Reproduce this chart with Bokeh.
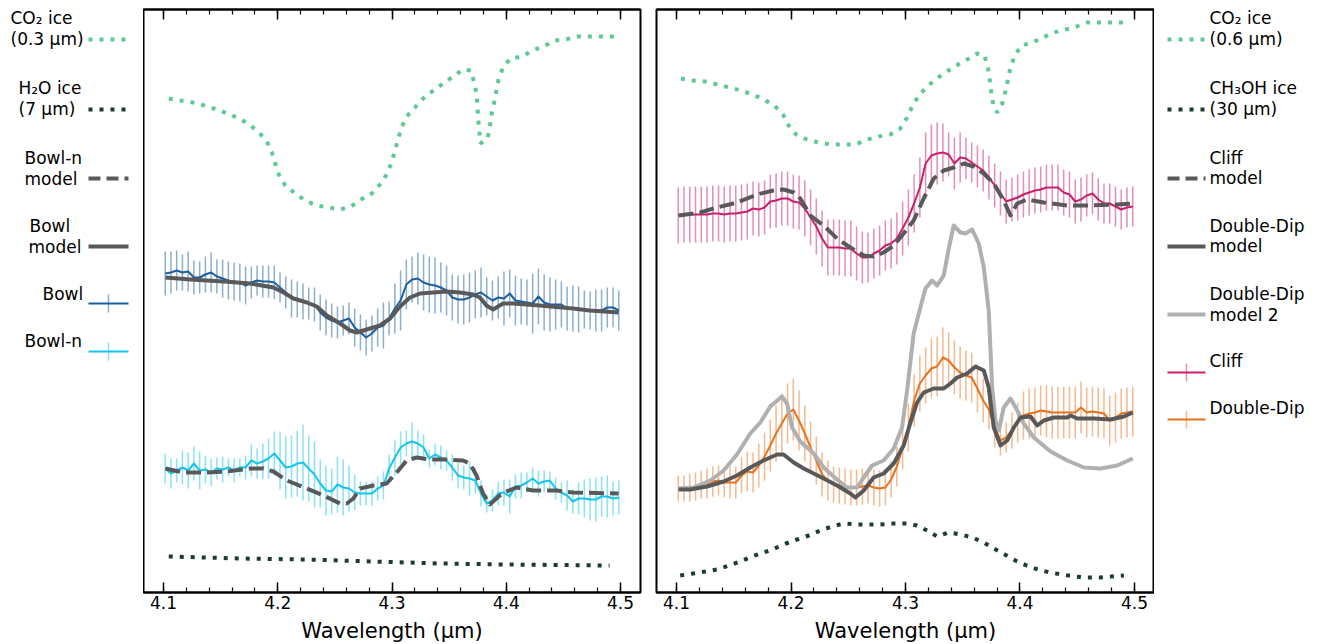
import numpy as np
from bokeh.plotting import figure
from bokeh.models import (Range1d, LinearAxis, ColumnDataSource, SingleIntervalTicker,
                          CustomLabelingPolicy)
from bokeh.layouts import row
from bokeh.embed import file_html
from bokeh.resources import INLINE
from bokeh.core.properties import value

# ---------------- data ----------------
# common wavelength grid of the observed spectra (micron)
wl = np.linspace(4.1015, 4.4985, 80)

bowl = [3.19, 3.20, 3.22, 3.20, 3.21, 3.15, 3.15, 3.18, 3.20, 3.16,
        3.14, 3.12, 3.11, 3.10, 3.07, 3.10, 3.12, 3.11, 3.11, 3.10,
        3.05, 3.00, 2.94, 2.93, 2.91, 2.89, 2.88, 2.80, 2.75, 2.72,
        2.70, 2.72, 2.74, 2.65, 2.60, 2.55, 2.59, 2.65, 2.67, 2.74,
        2.84, 2.92, 3.08, 3.13, 3.14, 3.10, 3.08, 3.07, 3.05, 3.02,
        2.95, 2.93, 2.93, 2.95, 2.98, 3.00, 2.96, 2.92, 2.95, 2.94,
        2.99, 2.92, 2.91, 2.90, 2.89, 2.96, 2.90, 2.88, 2.88, 2.88,
        2.84, 2.84, 2.83, 2.83, 2.82, 2.82, 2.82, 2.85, 2.85, 2.82]
bowl_err = [0.22, 0.21, 0.20, 0.18, 0.20, 0.17, 0.16, 0.18, 0.20, 0.17,
            0.19, 0.19, 0.19, 0.19, 0.19, 0.16, 0.15, 0.16, 0.16, 0.17,
            0.15, 0.16, 0.19, 0.18, 0.18, 0.16, 0.17, 0.18, 0.18, 0.17,
            0.16, 0.15, 0.16, 0.19, 0.18, 0.18, 0.18, 0.19, 0.23, 0.17,
            0.25, 0.30, 0.25, 0.23, 0.26, 0.28, 0.28, 0.28, 0.25, 0.25,
            0.23, 0.24, 0.25, 0.25, 0.24, 0.25, 0.19, 0.20, 0.21, 0.27,
            0.24, 0.25, 0.23, 0.23, 0.30, 0.28, 0.28, 0.27, 0.25, 0.23,
            0.22, 0.23, 0.23, 0.19, 0.19, 0.21, 0.21, 0.20, 0.20, 0.20]

bowln = [1.24, 1.19, 1.22, 1.25, 1.22, 1.29, 1.22, 1.23, 1.20, 1.24,
         1.23, 1.25, 1.22, 1.25, 1.25, 1.32, 1.29, 1.31, 1.34, 1.39,
         1.32, 1.25, 1.26, 1.29, 1.30, 1.24, 1.18, 1.09, 1.02, 1.01,
         1.08, 1.05, 1.04, 1.00, 0.99, 0.99, 0.99, 1.04, 1.07, 1.24,
         1.35, 1.45, 1.49, 1.51, 1.49, 1.45, 1.34, 1.38, 1.35, 1.32,
         1.25, 1.17, 1.15, 1.14, 1.12, 0.99, 0.89, 0.92, 0.99, 1.00,
         0.96, 1.06, 1.07, 1.10, 1.14, 1.09, 1.11, 1.12, 1.04, 1.00,
         0.97, 0.91, 0.94, 0.94, 0.93, 0.93, 0.96, 0.96, 0.94, 0.95]
bowln_err = [0.15, 0.15, 0.12, 0.17, 0.18, 0.17, 0.19, 0.14, 0.14, 0.11,
             0.13, 0.09, 0.12, 0.09, 0.12, 0.16, 0.15, 0.18, 0.20, 0.22,
             0.29, 0.31, 0.31, 0.33, 0.38, 0.33, 0.33, 0.24, 0.25, 0.23,
             0.28, 0.28, 0.23, 0.18, 0.12, 0.12, 0.12, 0.12, 0.14, 0.14,
             0.18, 0.16, 0.13, 0.19, 0.13, 0.13, 0.09, 0.11, 0.12, 0.10,
             0.13, 0.13, 0.12, 0.17, 0.13, 0.13, 0.09, 0.11, 0.12, 0.13,
             0.17, 0.12, 0.13, 0.10, 0.11, 0.13, 0.11, 0.09, 0.11, 0.10,
             0.15, 0.12, 0.16, 0.19, 0.21, 0.22, 0.20, 0.21, 0.17, 0.17]

cliff = [3.77, 3.78, 3.78, 3.78, 3.78, 3.78, 3.79, 3.79, 3.78, 3.79,
         3.79, 3.80, 3.81, 3.84, 3.83, 3.85, 3.91, 3.92, 3.94, 3.94,
         3.91, 3.90, 3.84, 3.75, 3.66, 3.54, 3.45, 3.45, 3.45, 3.44,
         3.44, 3.39, 3.35, 3.35, 3.39, 3.42, 3.47, 3.49, 3.54, 3.64,
         3.75, 3.89, 4.05, 4.29, 4.37, 4.39, 4.40, 4.38, 4.29, 4.35,
         4.34, 4.30, 4.26, 4.22, 4.15, 4.07, 3.99, 3.91, 3.93, 3.95,
         3.98, 4.00, 4.02, 4.03, 4.05, 4.05, 4.05, 4.00, 3.98, 3.91,
         3.93, 3.97, 3.99, 3.93, 3.89, 3.89, 3.86, 3.83, 3.85, 3.86]
cliff_err = [0.28, 0.28, 0.28, 0.28, 0.28, 0.28, 0.28, 0.28, 0.28, 0.28,
             0.28, 0.28, 0.28, 0.27, 0.27, 0.27, 0.27, 0.27, 0.27, 0.27,
             0.27, 0.27, 0.28, 0.28, 0.28, 0.28, 0.28, 0.28, 0.28, 0.28,
             0.28, 0.27, 0.26, 0.25, 0.25, 0.25, 0.25, 0.25, 0.26, 0.27,
             0.28, 0.29, 0.30, 0.31, 0.31, 0.31, 0.29, 0.22, 0.26, 0.25,
             0.21, 0.20, 0.21, 0.21, 0.22, 0.22, 0.22, 0.22, 0.22, 0.23,
             0.23, 0.23, 0.23, 0.23, 0.23, 0.23, 0.23, 0.23, 0.23, 0.22,
             0.22, 0.21, 0.21, 0.21, 0.20, 0.20, 0.20, 0.20, 0.20, 0.20]

ddip = [1.04, 1.04, 1.05, 1.06, 1.08, 1.09, 1.11, 1.12, 1.10, 1.10,
        1.10, 1.17, 1.21, 1.20, 1.27, 1.36, 1.47, 1.59, 1.69, 1.79,
        1.83, 1.72, 1.59, 1.45, 1.32, 1.18, 1.12, 1.08, 1.07, 1.06,
        1.05, 1.05, 1.06, 1.07, 1.05, 1.04, 1.05, 1.13, 1.26, 1.45,
        1.65, 1.92, 2.09, 2.17, 2.24, 2.26, 2.35, 2.32, 2.25, 2.20,
        2.17, 2.15, 2.04, 1.92, 1.83, 1.65, 1.52, 1.55, 1.62, 1.70,
        1.77, 1.79, 1.80, 1.82, 1.81, 1.80, 1.80, 1.80, 1.80, 1.80,
        1.85, 1.80, 1.81, 1.80, 1.79, 1.72, 1.75, 1.79, 1.80, 1.81]
ddip_err = [0.13, 0.13, 0.14, 0.14, 0.14, 0.15, 0.15, 0.15, 0.15, 0.16,
            0.16, 0.18, 0.20, 0.20, 0.22, 0.24, 0.26, 0.28, 0.30, 0.30,
            0.31, 0.30, 0.28, 0.26, 0.24, 0.22, 0.20, 0.18, 0.18, 0.18,
            0.18, 0.18, 0.18, 0.18, 0.18, 0.18, 0.18, 0.18, 0.20, 0.22,
            0.24, 0.26, 0.28, 0.28, 0.30, 0.30, 0.30, 0.28, 0.27, 0.26,
            0.25, 0.25, 0.24, 0.22, 0.20, 0.20, 0.15, 0.15, 0.18, 0.20,
            0.24, 0.25, 0.25, 0.25, 0.26, 0.26, 0.26, 0.26, 0.26, 0.26,
            0.26, 0.25, 0.25, 0.25, 0.25, 0.25, 0.25, 0.25, 0.25, 0.25]

# models
bowl_model_x = [4.1017, 4.1236, 4.1527, 4.1760, 4.1963, 4.2051, 4.2138, 4.2255, 4.2342, 4.2430,
                4.2546, 4.2633, 4.2691, 4.2779, 4.2895, 4.2983, 4.3070, 4.3157, 4.3245, 4.3361,
                4.3478, 4.3594, 4.3710, 4.3769, 4.3827, 4.3885, 4.3972, 4.4060, 4.4293, 4.4584,
                4.4729, 4.4983]
bowl_model_y = [3.15, 3.13, 3.11, 3.09, 3.05, 3.00, 2.94, 2.90, 2.86, 2.77,
                2.69, 2.62, 2.60, 2.63, 2.67, 2.74, 2.86, 2.95, 2.99, 3.00,
                3.01, 3.00, 2.98, 2.95, 2.87, 2.83, 2.89, 2.89, 2.87, 2.84,
                2.82, 2.80]

bowln_model_x = [4.1017, 4.1178, 4.1381, 4.1556, 4.1760, 4.1876, 4.1963, 4.2080, 4.2255, 4.2400,
                 4.2546, 4.2604, 4.2662, 4.2720, 4.2837, 4.2953, 4.3041, 4.3128, 4.3215, 4.3332,
                 4.3478, 4.3623, 4.3681, 4.3740, 4.3797, 4.3856, 4.3943, 4.4002, 4.4089, 4.4234,
                 4.4438, 4.4583, 4.4983]
bowln_model_y = [1.24, 1.20, 1.20, 1.21, 1.24, 1.24, 1.21, 1.12, 1.04, 0.97,
                 0.89, 0.89, 0.94, 1.04, 1.07, 1.09, 1.20, 1.32, 1.35, 1.33,
                 1.33, 1.32, 1.29, 1.17, 0.99, 0.88, 0.97, 1.01, 1.05, 1.02,
                 1.02, 1.00, 0.99]

cliff_model_x = [4.1018, 4.1207, 4.1353, 4.1528, 4.1703, 4.1848, 4.1935, 4.2023, 4.2081, 4.2169,
                 4.2285, 4.2402, 4.2518, 4.2635, 4.2722, 4.2809, 4.2897, 4.2984, 4.3071, 4.3159,
                 4.3247, 4.3334, 4.3421, 4.3509, 4.3596, 4.3684, 4.3771, 4.3858, 4.3917, 4.3976,
                 4.4063, 4.4208, 4.4413, 4.4559, 4.4850, 4.4985]
cliff_model_y = [3.77, 3.80, 3.85, 3.90, 3.98, 4.02, 4.03, 4.00, 3.94, 3.77,
                 3.67, 3.54, 3.45, 3.37, 3.36, 3.40, 3.47, 3.59, 3.72, 3.94,
                 4.14, 4.22, 4.25, 4.29, 4.26, 4.19, 4.09, 3.92, 3.77, 3.89,
                 3.93, 3.90, 3.87, 3.87, 3.88, 3.89]

dd_model_x = [4.1018, 4.1120, 4.1266, 4.1411, 4.1528, 4.1644, 4.1760, 4.1878, 4.1935, 4.2023,
              4.2111, 4.2198, 4.2285, 4.2402, 4.2518, 4.2562, 4.2635, 4.2722, 4.2809, 4.2897,
              4.2984, 4.3043, 4.3101, 4.3159, 4.3247, 4.3334, 4.3393, 4.3451, 4.3539, 4.3611,
              4.3684, 4.3727, 4.3771, 4.3830, 4.3888, 4.3946, 4.4005, 4.4092, 4.4151, 4.4208,
              4.4296, 4.4413, 4.4442, 4.4500, 4.4646, 4.4792, 4.4908, 4.4985]
dd_model_y = [1.03, 1.03, 1.06, 1.11, 1.17, 1.25, 1.32, 1.38, 1.38, 1.30,
              1.24, 1.19, 1.14, 1.07, 0.99, 0.95, 1.02, 1.15, 1.19, 1.29,
              1.47, 1.70, 1.90, 2.00, 2.04, 2.04, 2.09, 2.15, 2.19, 2.26,
              2.22, 2.05, 1.65, 1.47, 1.52, 1.65, 1.75, 1.76, 1.67, 1.72,
              1.75, 1.75, 1.77, 1.74, 1.74, 1.73, 1.76, 1.80]

dd_model2_x = [4.1018, 4.1149, 4.1295, 4.1411, 4.1528, 4.1644, 4.1732, 4.1819, 4.1921, 4.1965,
               4.2009, 4.2081, 4.2198, 4.2285, 4.2402, 4.2489, 4.2577, 4.2635, 4.2708, 4.2809,
               4.2897, 4.2970, 4.3014, 4.3071, 4.3130, 4.3174, 4.3232, 4.3276, 4.3334, 4.3378,
               4.3421, 4.3480, 4.3524, 4.3582, 4.3640, 4.3684, 4.3727, 4.3757, 4.3786, 4.3815,
               4.3858, 4.3917, 4.3976, 4.4033, 4.4121, 4.4267, 4.4413, 4.4559, 4.4705, 4.4850,
               4.4985]
dd_model2_y = [1.04, 1.05, 1.12, 1.22, 1.38, 1.59, 1.70, 1.86, 1.96, 1.89,
               1.65, 1.51, 1.39, 1.25, 1.13, 1.05, 1.05, 1.15, 1.27, 1.32,
               1.44, 1.65, 2.02, 2.59, 2.85, 3.04, 3.12, 3.07, 3.17, 3.44,
               3.67, 3.60, 3.59, 3.63, 3.49, 3.25, 2.82, 2.05, 1.72, 1.62,
               1.85, 1.94, 1.82, 1.69, 1.55, 1.41, 1.32, 1.25, 1.24, 1.27,
               1.34]

# ice spectra
co2_l_x = [4.1046, 4.1148, 4.1256, 4.1358, 4.1463, 4.1562, 4.1661, 4.1751, 4.1836, 4.1905,
           4.1949, 4.1978, 4.2013, 4.2066, 4.2153, 4.2240, 4.2342, 4.2444, 4.2546, 4.2642,
           4.2729, 4.2823, 4.2895, 4.2953, 4.2997, 4.3026, 4.3055, 4.3084, 4.3128, 4.3201,
           4.3273, 4.3361, 4.3448, 4.3535, 4.3623, 4.3690, 4.3719, 4.3740, 4.3748, 4.3754,
           4.3763, 4.3775, 4.3836, 4.3856, 4.3871, 4.3894, 4.3914, 4.3934, 4.3972, 4.4036,
           4.4141, 4.4228, 4.4327, 4.4423, 4.4519, 4.4627, 4.4729, 4.4831, 4.4948]
co2_l_y = [4.94, 4.92, 4.90, 4.87, 4.83, 4.79, 4.74, 4.68, 4.60, 4.51,
           4.40, 4.29, 4.17, 4.07, 3.99, 3.92, 3.87, 3.85, 3.83, 3.86,
           3.93, 3.99, 4.08, 4.18, 4.30, 4.42, 4.54, 4.65, 4.76, 4.85,
           4.94, 5.02, 5.09, 5.16, 5.23, 5.22, 5.10, 4.99, 4.86, 4.74,
           4.62, 4.49, 4.54, 4.65, 4.78, 4.90, 5.02, 5.14, 5.25, 5.34,
           5.36, 5.42, 5.46, 5.52, 5.53, 5.56, 5.56, 5.56, 5.56]

h2o_x = [4.1046, 4.1672, 4.2255, 4.2837, 4.3419, 4.4002, 4.4904]
h2o_y = [0.36, 0.34, 0.33, 0.31, 0.29, 0.28, 0.27]

co2_r_x = [4.1038, 4.1143, 4.1251, 4.1356, 4.1461, 4.1563, 4.1664, 4.1764, 4.1854, 4.1930,
           4.1979, 4.2044, 4.2140, 4.2241, 4.2352, 4.2460, 4.2565, 4.2664, 4.2766, 4.2868,
           4.2955, 4.3014, 4.3058, 4.3110, 4.3180, 4.3261, 4.3349, 4.3442, 4.3538, 4.3626,
           4.3690, 4.3719, 4.3736, 4.3748, 4.3766, 4.3801, 4.3845, 4.3873, 4.3894, 4.3917,
           4.3955, 4.4013, 4.4107, 4.4203, 4.4296, 4.4398, 4.4494, 4.4588, 4.4696, 4.4807,
           4.4923]
co2_r_y = [5.14, 5.12, 5.11, 5.08, 5.05, 5.02, 4.98, 4.93, 4.87, 4.78,
           4.67, 4.58, 4.53, 4.50, 4.48, 4.48, 4.48, 4.53, 4.56, 4.58,
           4.64, 4.75, 4.86, 4.96, 5.05, 5.13, 5.20, 5.27, 5.33, 5.39,
           5.37, 5.25, 5.13, 5.01, 4.88, 4.80, 4.89, 5.01, 5.13, 5.25,
           5.37, 5.47, 5.50, 5.55, 5.60, 5.63, 5.66, 5.70, 5.70, 5.70,
           5.70]

ch3oh_x = [4.1032, 4.1143, 4.1251, 4.1353, 4.1458, 4.1557, 4.1659, 4.1760, 4.1857, 4.1956,
           4.2053, 4.2154, 4.2256, 4.2358, 4.2460, 4.2571, 4.2673, 4.2781, 4.2892, 4.2997,
           4.3101, 4.3189, 4.3276, 4.3378, 4.3486, 4.3582, 4.3684, 4.3771, 4.3867, 4.3960,
           4.4057, 4.4159, 4.4260, 4.4369, 4.4477, 4.4588, 4.4696, 4.4798, 4.4908]
ch3oh_y = [0.17, 0.19, 0.21, 0.23, 0.27, 0.31, 0.36, 0.40, 0.44, 0.49,
           0.53, 0.57, 0.62, 0.66, 0.69, 0.68, 0.68, 0.68, 0.69, 0.69,
           0.67, 0.62, 0.56, 0.60, 0.58, 0.55, 0.50, 0.44, 0.38, 0.32,
           0.27, 0.23, 0.20, 0.18, 0.16, 0.15, 0.15, 0.16, 0.17]

ticks = [4.1, 4.2, 4.3, 4.4, 4.5]

# ---------------- style ----------------
C_CO2 = "#5ec992"
C_DARKICE = "#1d3d2b"
C_BOWL = "#1b5f9e"
C_BOWLN = "#16c5ee"
C_CLIFF = "#c8206e"
C_DD = "#e8731f"
C_MOD = "#595959"
C_MOD2 = "#b0b0b0"
DOT = "4 7"
DASH = "15 6"
FONT = "DejaVu Sans"
FRAME_TOP, FRAME_H, BOTTOM = 9, 583, 52


def panel(left, right, fw):
    p = figure(frame_width=fw, frame_height=FRAME_H, title=None,
               x_range=Range1d(4.0825, 4.5175), y_range=Range1d(0, 5.83),
               output_backend="svg", toolbar_location=None,
               min_border_left=left, min_border_right=right,
               min_border_top=FRAME_TOP, min_border_bottom=BOTTOM,
               y_axis_location=None, background_fill_color="white",
               border_fill_color="white")
    p.xgrid.visible = False
    p.ygrid.visible = False
    p.outline_line_color = "black"
    p.outline_line_width = 2
    ax = p.xaxis[0]
    ax.ticker = SingleIntervalTicker(interval=0.1, num_minor_ticks=5)
    ax.major_tick_in = 10
    ax.major_tick_out = 0
    ax.minor_tick_in = 5
    ax.minor_tick_out = 0
    ax.major_tick_line_width = 1.5
    ax.minor_tick_line_width = 1.2
    ax.axis_line_width = 2
    ax.major_label_text_font = FONT
    ax.major_label_text_font_size = "17px"
    ax.major_label_text_color = "black"
    ax.major_label_standoff = 3
    ax.axis_label = "Wavelength (μm)"
    ax.axis_label_text_font = FONT
    ax.axis_label_text_font_size = "21px"
    ax.axis_label_text_font_style = "normal"
    ax.axis_label_text_color = "black"
    ax.axis_label_standoff = 7
    # mirrored ticks on the top edge, without labels
    top = LinearAxis(ticker=SingleIntervalTicker(interval=0.1, num_minor_ticks=5),
                     major_tick_in=10, major_tick_out=0, minor_tick_in=5, minor_tick_out=0,
                     major_tick_line_width=1.5, minor_tick_line_width=1.2,
                     axis_line_width=2, major_label_text_font_size="6px",
                     major_label_standoff=0,
                     major_label_policy=CustomLabelingPolicy(
                         code="if (false) { yield 0; }"))
    p.add_layout(top, "above")
    return p


def errdata(p, x, y, e, color):
    y = np.asarray(y)
    e = np.asarray(e)
    src = ColumnDataSource(dict(x=x, y=y, lo=y - e, hi=y + e))
    p.segment(x0="x", y0="lo", x1="x", y1="hi", source=src,
              line_color=color, line_alpha=0.5, line_width=1.5)
    p.line(x="x", y="y", source=src, line_color=color, line_width=2, line_join="round")


# ---------------- left panel ----------------
p1 = panel(0, 8, 497)
p1.line(co2_l_x, co2_l_y, line_color=C_CO2, line_width=4, line_dash=DOT, line_cap="butt")
p1.line(h2o_x, h2o_y, line_color=C_DARKICE, line_width=4, line_dash=DOT, line_cap="butt")
errdata(p1, wl, bowl, bowl_err, C_BOWL)
errdata(p1, wl, bowln, bowln_err, C_BOWLN)
p1.line(bowl_model_x, bowl_model_y, line_color=C_MOD, line_width=4, line_join="round")
p1.line(bowln_model_x, bowln_model_y, line_color=C_MOD, line_width=4, line_dash=DASH,
        line_join="round")

# ---------------- right panel ----------------
p2 = panel(8, 0, 498)
p2.line(co2_r_x, co2_r_y, line_color=C_CO2, line_width=4, line_dash=DOT, line_cap="butt")
p2.line(ch3oh_x, ch3oh_y, line_color=C_DARKICE, line_width=4, line_dash=DOT, line_cap="butt")
errdata(p2, wl, cliff, cliff_err, C_CLIFF)
errdata(p2, wl, ddip, ddip_err, C_DD)
p2.line(cliff_model_x, cliff_model_y, line_color=C_MOD, line_width=4, line_dash=DASH,
        line_join="round")
p2.line(dd_model2_x, dd_model2_y, line_color=C_MOD2, line_width=4, line_join="round")
p2.line(dd_model_x, dd_model_y, line_color=C_MOD, line_width=4, line_join="round")


# ---------------- legends (drawn in pixel-space side figures) ----------------
def legfig(w):
    # frame aligned with the panels' frames; y range expressed in page pixels
    f = figure(frame_width=w, frame_height=FRAME_H, title=None,
               x_range=Range1d(0, w),
               y_range=Range1d(FRAME_TOP + FRAME_H, FRAME_TOP),
               output_backend="svg", toolbar_location=None,
               min_border_left=0, min_border_right=0,
               min_border_top=FRAME_TOP, min_border_bottom=BOTTOM,
               x_axis_location=None, y_axis_location=None)
    f.xgrid.visible = False
    f.ygrid.visible = False
    f.outline_line_color = None
    return f


def txt(f, x, y, s):
    f.text(x=[x], y=[y], text=[s], text_font=value(FONT), text_font_size="17px",
           text_baseline="middle", text_align="left", text_color="black")


legL = legfig(143)
left_entries = [
    ([(10, 17, "CO₂ ice"), (10, 38, "(0.3 μm)")], 39, "dot", C_CO2),
    ([(18, 87, "H₂O ice"), (18, 108, "(7 μm)")], 109, "dot", C_DARKICE),
    ([(24, 157, "Bowl-n"), (24, 178, "model")], 178, "dash", C_MOD),
    ([(29, 225, "Bowl"), (28, 246, "model")], 246, "solid", C_MOD),
    ([(42, 293, "Bowl")], 303, "err", C_BOWL),
    ([(24, 340, "Bowl-n")], 351, "err", C_BOWLN),
]
right_entries = [
    ([(55, 17, "CO₂ ice"), (55, 38, "(0.6 μm)")], 39, "dot", C_CO2),
    ([(55, 87, "CH₃OH ice"), (55, 108, "(30 μm)")], 109, "dot", C_DARKICE),
    ([(55, 157, "Cliff"), (55, 177, "model")], 178, "dash", C_MOD),
    ([(55, 225, "Double-Dip"), (55, 245, "model")], 246, "solid", C_MOD),
    ([(55, 293, "Double-Dip"), (55, 314, "model 2")], 314, "solid", C_MOD2),
    ([(55, 360, "Cliff")], 372, "err", C_CLIFF),
    ([(55, 407, "Double-Dip")], 419, "err", C_DD),
]


def draw_entries(f, entries, x0, x1):
    xm = (x0 + x1) / 2
    for lines, hy, kind, col in entries:
        for (tx, ty, s) in lines:
            txt(f, tx, ty, s)
        if kind == "dot":
            f.line([x0, x1], [hy, hy], line_color=col, line_width=4, line_dash=DOT, line_cap="butt")
        elif kind == "dash":
            f.line([x0, x1], [hy, hy], line_color=col, line_width=4, line_dash="12 6", line_cap="butt")
        elif kind == "solid":
            f.line([x0, x1], [hy, hy], line_color=col, line_width=4)
        else:
            f.line([x0, x1], [hy, hy], line_color=col, line_width=2)
            f.segment(x0=[xm], y0=[hy - 9], x1=[xm], y1=[hy + 9], line_color=col,
                      line_alpha=0.5, line_width=1.5)


draw_entries(legL, left_entries, 88, 128)
legR = legfig(171)
draw_entries(legR, right_entries, 13, 51)

layout = row(legL, p1, p2, legR)
open("out.html", "w").write(file_html(layout, INLINE))
